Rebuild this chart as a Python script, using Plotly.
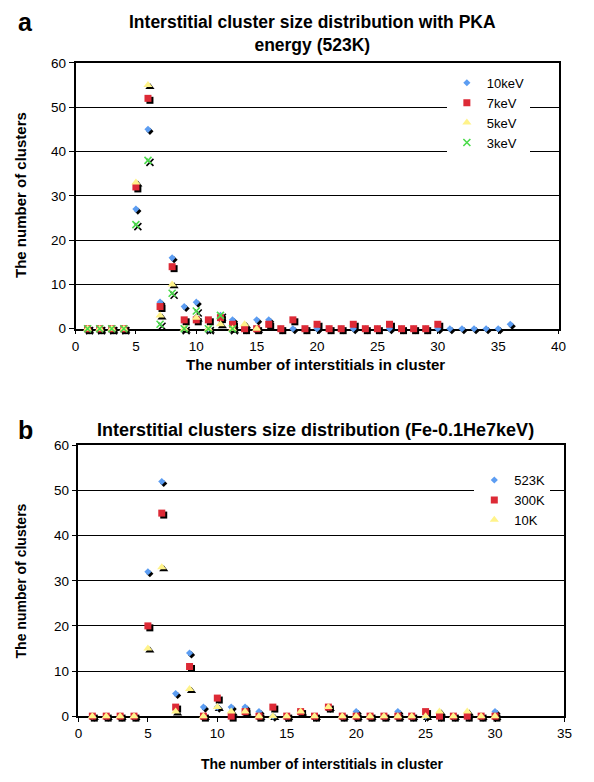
import plotly.graph_objects as go

# ---------------- data: panel a (523K, PKA energy) ----------------
size_a_10keV = [1, 2, 3, 4, 5, 6, 7, 8, 9, 10, 11, 12, 13, 14, 15, 16, 17, 18,
                19, 20, 21, 22, 23, 24, 25, 26, 27, 28, 29, 30, 31, 32, 33, 34, 35, 36]
count_a_10keV = [0, 0, 0, 0, 27, 45, 6, 16, 5, 6, 0, 3, 2, 0, 2, 2, 0, 0,
                 0, 0, 0, 0, 0, 0, 0, 0, 0, 0, 0, 0, 0, 0, 0, 0, 0, 1]
size_a_7keV = [1, 2, 3, 4, 5, 6, 7, 8, 9, 10, 11, 12, 13, 14, 15, 16, 17, 18,
               19, 20, 21, 22, 23, 24, 25, 26, 27, 28, 29, 30]
count_a_7keV = [0, 0, 0, 0, 32, 52, 5, 14, 2, 2, 2, 2.5, 1, 0, 0, 1, 0, 2,
                0, 1, 0, 0, 1, 0, 0, 1, 0, 0, 0, 1]
size_a_5keV = [1, 2, 3, 4, 5, 6, 7, 8, 9, 10, 11, 12, 13, 14, 15]
count_a_5keV = [0, 0, 0, 0, 33, 55, 3, 10, 0, 2.5, 0, 1, 0, 1, 0]
size_a_3keV = [1, 2, 3, 4, 5, 6, 7, 8, 9, 10, 11, 12, 13]
count_a_3keV = [0, 0, 0, 0, 23.5, 38, 1, 8, 0, 4, 0, 3, 0]

# ---------------- data: panel b (Fe-0.1He 7keV, temperature) ----------------
size_b = [1, 2, 3, 4, 5, 6, 7, 8, 9, 10, 11, 12, 13, 14, 15, 16, 17, 18,
          19, 20, 21, 22, 23, 24, 25, 26, 27, 28, 29, 30]
count_b_523K = [0, 0, 0, 0, 32, 52, 5, 14, 2, 2, 2, 2, 1, 0, 0, 1, 0, 2,
                0, 1, 0, 0, 1, 0, 0, 0, 0, 0, 0, 1]
count_b_300K = [0, 0, 0, 0, 20, 45, 2, 11, 0, 4, 0, 1, 0, 2, 0, 1, 0, 2,
                0, 0, 0, 0, 0, 0, 1, 0, 0, 0, 0, 0]
count_b_10K = [0, 0, 0, 0, 15, 33, 1, 6, 0, 2, 1, 1, 0, 0, 0, 1, 0, 2,
               0, 0, 0, 0, 0, 0, 0, 1, 0, 1, 0, 0]

x_ticks_a = [0, 5, 10, 15, 20, 25, 30, 35, 40]
x_ticks_b = [0, 5, 10, 15, 20, 25, 30, 35]
y_ticks = [0, 10, 20, 30, 40, 50, 60]

# ---------------- styling ----------------
W, H = 594, 782
BLUE = "#5C9DF2"
RED = "#DD2A36"
YELLOW = "#FFF38A"
GREEN = "#4ADB4A"
FONT = "Liberation Sans, Arial, sans-serif"


def px(x):
    return x / W


def py(y):
    return 1 - y / H


SH = 2  # shadow offset in px

fig = go.Figure()

styles = {
    "diamond": dict(symbol="diamond", size=5.5),
    "square": dict(symbol="square", size=7),
    "triangle": dict(symbol="triangle-up", size=8),
    "x": dict(symbol="x-thin", size=7),
}


def add_series(xs, ys, name, color, kind, shadow_axes, main_axes, legend):
    st = styles[kind]
    if kind == "x":
        sh_marker = dict(symbol=st["symbol"], size=st["size"],
                         line=dict(color="black", width=1.6))
        mk = dict(symbol=st["symbol"], size=st["size"],
                  line=dict(color=color, width=1.6))
    else:
        sh_marker = dict(symbol=st["symbol"], size=st["size"], color="black",
                         line=dict(width=0))
        mk = dict(symbol=st["symbol"], size=st["size"], color=color,
                  line=dict(width=0))
    fig.add_trace(go.Scatter(x=xs, y=ys, mode="markers", marker=sh_marker,
                             xaxis=shadow_axes[0], yaxis=shadow_axes[1],
                             showlegend=False, cliponaxis=False, hoverinfo="skip"))
    fig.add_trace(go.Scatter(x=xs, y=ys, mode="markers", marker=mk, name=name,
                             xaxis=main_axes[0], yaxis=main_axes[1],
                             legend=legend, cliponaxis=False))


for xs, ys, nm, col, kd in [
    (size_a_10keV, count_a_10keV, "10keV", BLUE, "diamond"),
    (size_a_7keV, count_a_7keV, "7keV", RED, "square"),
    (size_a_5keV, count_a_5keV, "5keV", YELLOW, "triangle"),
    (size_a_3keV, count_a_3keV, "3keV", GREEN, "x"),
]:
    add_series(xs, ys, nm, col, kd, ("x", "y"), ("x2", "y2"), "legend")

for ys, nm, col, kd in [
    (count_b_523K, "523K", BLUE, "diamond"),
    (count_b_300K, "300K", RED, "square"),
    (count_b_10K, "10K", YELLOW, "triangle"),
]:
    add_series(size_b, ys, nm, col, kd, ("x3", "y3"), ("x4", "y4"), "legend2")

A = dict(l=73, r=566, t=57, b=328)
B = dict(l=76, r=572, t=447, b=723)


def main_x(box, rng, ticks, anchor):
    return dict(domain=[px(box["l"]), px(box["r"])], range=rng, anchor=anchor,
                tickvals=ticks, ticktext=[str(t) for t in ticks],
                showline=True, linecolor="black", linewidth=1.5, mirror=True,
                ticks="outside", ticklen=4, tickwidth=1, tickcolor="black",
                showgrid=False, zeroline=False, layer="below traces",
                tickfont=dict(family=FONT, size=13.5, color="black"))


def main_y(box, anchor):
    return dict(domain=[py(box["b"]), py(box["t"])], range=[0, 60], anchor=anchor,
                tickvals=y_ticks, ticktext=[str(t) for t in y_ticks],
                showline=True, linecolor="black", linewidth=1.5, mirror=True,
                ticks="outside", ticklen=5, tickwidth=1, tickcolor="black",
                showgrid=True, gridcolor="black", gridwidth=1,
                zeroline=False, layer="below traces",
                tickfont=dict(family=FONT, size=13.5, color="black"))


def shadow_x(box, rng, anchor):
    return dict(domain=[px(box["l"] + SH), px(box["r"] + SH)], range=rng,
                anchor=anchor, visible=False)


def shadow_y(box, anchor):
    return dict(domain=[py(box["b"] + SH), py(box["t"] + SH)], range=[0, 60],
                anchor=anchor, visible=False)


fig.update_layout(
    width=W, height=H,
    margin=dict(l=0, r=0, t=0, b=0),
    paper_bgcolor="white", plot_bgcolor="rgba(0,0,0,0)",
    font=dict(family=FONT, color="black"),
    xaxis=shadow_x(A, [0, 40], "y"),
    yaxis=shadow_y(A, "x"),
    xaxis2=main_x(A, [0, 40], x_ticks_a, "y2"),
    yaxis2=main_y(A, "x2"),
    xaxis3=shadow_x(B, [0, 35], "y3"),
    yaxis3=shadow_y(B, "x3"),
    xaxis4=main_x(B, [0, 35], x_ticks_b, "y4"),
    yaxis4=main_y(B, "x4"),
    legend=dict(x=px(452), y=py(62), xanchor="left", yanchor="top",
                bgcolor="white", borderwidth=0,
                font=dict(family=FONT, size=13, color="black"),
                tracegroupgap=0, itemwidth=30),
    legend2=dict(x=px(480), y=py(467), xanchor="left", yanchor="top",
                 bgcolor="white", borderwidth=0,
                 font=dict(family=FONT, size=13, color="black"),
                 tracegroupgap=0, itemwidth=30),
)

ann = []
ann.append(dict(text="<b>a</b>", x=px(22), y=py(15), font=dict(size=25)))
ann.append(dict(text="<b>b</b>", x=px(22), y=py(431), font=dict(size=25)))
ann.append(dict(text="<b>Interstitial cluster size distribution with PKA<br>energy (523K)</b>",
                x=px(315), y=py(27), font=dict(size=17.5)))
ann.append(dict(text="<b>Interstitial clusters size distribution (Fe-0.1He7keV)</b>",
                x=px(318), y=py(431), font=dict(size=18)))
ann.append(dict(text="<b>The number of clusters</b>", x=px(17), y=py(192),
                textangle=-90, font=dict(size=15)))
ann.append(dict(text="<b>The number of clusters</b>", x=px(17), y=py(585),
                textangle=-90, font=dict(size=14)))
ann.append(dict(text="<b>The number of interstitials in cluster</b>", x=px(318),
                y=py(365), font=dict(size=15)))
ann.append(dict(text="<b>The number of interstitials in cluster</b>", x=px(325),
                y=py(772), font=dict(size=14)))
for a in ann:
    a.update(xref="paper", yref="paper", showarrow=False,
             xanchor="center", yanchor="middle")
    a["font"].update(family=FONT, color="black")
fig.update_layout(annotations=ann)

fig.write_html("out.html")
